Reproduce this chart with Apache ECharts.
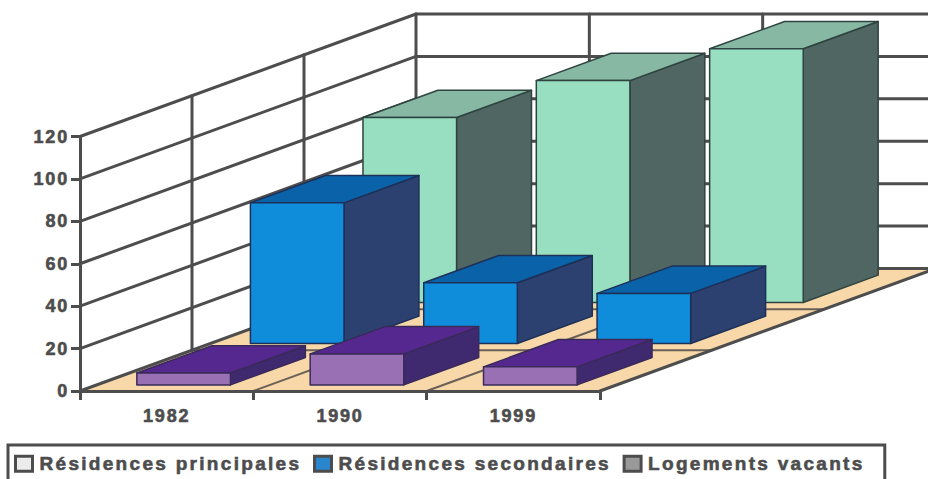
<!DOCTYPE html>
<html>
<head>
<meta charset="utf-8">
<style>
html,body{margin:0;padding:0;background:#fff;letter-spacing:1.8px;}
#c{width:928px;height:479px;}
text[style*="19px"]{letter-spacing:2.3px;}
</style>
<script src="https://cdn.jsdelivr.net/npm/echarts@6/dist/echarts.min.js"></script>
</head>
<body>
<div id="c"></div>
<script>
var categories = ['1982', '1990', '1999'];
var seriesNames = ['Résidences principales', 'Résidences secondaires', 'Logements vacants'];
var principales = [87.2, 104.6, 119.6];
var secondaires = [66.3, 28.6, 23.6];
var vacants = [5.6, 14.6, 8.5];
var yMax = 120;
var yStep = 20;

var LINE = '#4d4d4d';
var DEPTH_X = 336, DEPTH_Y = 122.5;
var BAR_OFFSET = 0.231, BAR_WIDTH = 0.54, BAR_DEPTH = 0.223;

var chart = echarts.init(document.getElementById('c'), null, {renderer: 'svg'});

function pt(api, cat, frac, value, t) {
  var c = api.coord([cat, value]);
  var band = api.size([1, 0])[0];
  return [c[0] - band / 2 + frac * band + DEPTH_X * t, c[1] - DEPTH_Y * t];
}
function poly(points, fill, stroke, w) {
  return {type: 'polygon', shape: {points: points}, style: {fill: fill, stroke: stroke || null, lineWidth: w || 0, lineJoin: 'round'}};
}
function seg(a, b, w, color) {
  return {type: 'line', shape: {x1: a[0], y1: a[1], x2: b[0], y2: b[1]}, style: {stroke: color || LINE, lineWidth: w, lineCap: 'round'}};
}

function renderFrame(params, api) {
  var n = categories.length;
  var kids = [];
  kids.push(poly([pt(api, 0, 0, 0, 0), pt(api, n - 1, 1, 0, 0), pt(api, n - 1, 1, 0, 1), pt(api, 0, 0, 0, 1)], '#f8d8a8'));
  var i, t;
  for (i = 1; i <= 2; i++) {
    t = i / 3;
    kids.push(seg(pt(api, 0, 0, 0, t), pt(api, n - 1, 1, 0, t), 2, '#6a6058'));
  }
  for (i = 1; i < n; i++) {
    kids.push(seg(pt(api, i, 0, 0, 0), pt(api, i, 0, 0, 1), 2, '#6a6058'));
  }
  for (var v = 0; v <= yMax; v += yStep) {
    kids.push(seg(pt(api, 0, 0, v, 0), pt(api, 0, 0, v, 1), 3));
    kids.push(seg(pt(api, 0, 0, v, 1), pt(api, n - 1, 1, v, 1), 3));
  }
  for (i = 1; i <= 3; i++) {
    t = i / 3;
    kids.push(seg(pt(api, 0, 0, 0, t), pt(api, 0, 0, yMax, t), 3));
  }
  for (i = 1; i < n; i++) {
    kids.push(seg(pt(api, i, 0, 0, 1), pt(api, i, 0, yMax, 1), 3));
  }
  kids.push(seg(pt(api, n - 1, 1, 0, 0), pt(api, n - 1, 1, 0, 1), 3));
  return {type: 'group', children: kids};
}

function makeRender(t0, front, top, side, edge) {
  return function (params, api) {
    var cat = api.value(0), v = api.value(1);
    var f0 = BAR_OFFSET, f1 = BAR_OFFSET + BAR_WIDTH, t1 = t0 + BAR_DEPTH;
    var a = pt(api, cat, f0, 0, t0), b = pt(api, cat, f1, 0, t0);
    var c = pt(api, cat, f1, v, t0), d = pt(api, cat, f0, v, t0);
    var e = pt(api, cat, f1, 0, t1), g = pt(api, cat, f1, v, t1), h = pt(api, cat, f0, v, t1);
    return {type: 'group', children: [
      poly([b, e, g, c], side, edge, 1.5),
      poly([d, c, g, h], top, edge, 1.5),
      poly([a, b, c, d], front, edge, 1.5)
    ]};
  };
}
function pairs(values) {
  return values.map(function (v, i) { return [i, v]; });
}
var textStyle = {color: LINE, fontFamily: '"Liberation Sans", Arial, sans-serif', fontWeight: 'bold', fontSize: 18, textBorderColor: LINE, textBorderWidth: 0.6};

chart.setOption({
  animation: false,
  backgroundColor: '#fff',
  grid: {left: 80, right: 328, top: 136.5, bottom: 88, containLabel: false},
  xAxis: {
    type: 'category', data: categories, z: 2,
    axisLine: {lineStyle: {color: LINE, width: 3}},
    axisTick: {show: true, alignWithLabel: false, length: 9, lineStyle: {color: LINE, width: 3}},
    axisLabel: Object.assign({margin: 16}, textStyle),
    splitLine: {show: false}
  },
  yAxis: {
    type: 'value', min: 0, max: yMax, interval: yStep, z: 2,
    axisLine: {show: true, lineStyle: {color: LINE, width: 3}},
    axisTick: {show: true, length: 9, lineStyle: {color: LINE, width: 3}},
    axisLabel: Object.assign({margin: 11}, textStyle),
    splitLine: {show: false}
  },
  legend: {
    left: 8, top: 445, orient: 'horizontal', selectedMode: false,
    padding: [9, 59, 24, 6],
    borderColor: LINE, borderWidth: 3,
    itemWidth: 17, itemHeight: 15, itemGap: 62,
    textStyle: Object.assign({}, textStyle, {fontSize: 19, padding: [0, 0, 0, 2]}),
    data: [
      {name: seriesNames[0], icon: 'rect', itemStyle: {color: '#ececec', borderColor: LINE, borderWidth: 3}},
      {name: seriesNames[1], icon: 'rect', itemStyle: {color: '#2a86cc', borderColor: LINE, borderWidth: 3}},
      {name: seriesNames[2], icon: 'rect', itemStyle: {color: '#9a9a9a', borderColor: LINE, borderWidth: 3}}
    ]
  },
  series: [
    {type: 'custom', z: 1, silent: true, data: [[0, 0]], renderItem: renderFrame, encode: {x: 0, y: 1}},
    {type: 'custom', z: 3, name: seriesNames[0], data: pairs(principales), encode: {x: 0, y: 1},
      renderItem: makeRender(0.723, '#97dfc0', '#86b8a4', '#4f6662', '#2f4440')},
    {type: 'custom', z: 4, name: seriesNames[1], data: pairs(secondaires), encode: {x: 0, y: 1},
      renderItem: makeRender(0.388, '#0f8ddb', '#0a62a8', '#2c4170', '#1d3058')},
    {type: 'custom', z: 5, name: seriesNames[2], data: pairs(vacants), encode: {x: 0, y: 1},
      renderItem: makeRender(0.05, '#9a70b4', '#55288f', '#3f2a70', '#3a2a5a')}
  ]
});
</script>
</body>
</html>
